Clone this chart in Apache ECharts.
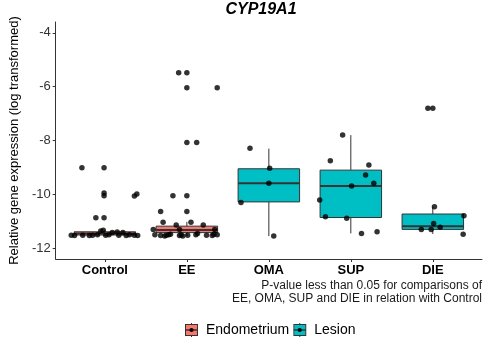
<!DOCTYPE html>
<html>
<head>
<meta charset="utf-8">
<script src="https://cdn.jsdelivr.net/npm/echarts@6/dist/echarts.min.js"></script>
<style>
  html, body { margin: 0; padding: 0; background: #fff; }
  #chart { width: 484px; height: 338px; }
</style>
</head>
<body>
<div id="chart"></div>
<script>
const categories = ["Control", "EE", "OMA", "SUP", "DIE"];
const yTicks = [-12, -10, -8, -6, -4];

// [position, lower whisker, Q1, median, Q3, upper whisker]
const endometriumBoxes = [
  [1, -11.55, -11.51, -11.45, -11.39, -11.32],
  [2, -11.55, -11.42, -11.32, -11.18, -11.02]
];
const lesionBoxes = [
  [3, -11.55, -10.28, -9.59, -9.05, -8.30],
  [4, -11.45, -10.86, -9.69, -9.10, -7.80],
  [5, -11.47, -11.30, -11.18, -10.73, -10.46]
];

// jittered points [x, value]
const controlPoints = [
  [0.72, -9.01], [0.99, -9.01], [0.99, -9.95], [0.99, -10.05], [1.36, -10.06],
  [1.39, -9.99], [0.89, -10.87], [0.99, -10.87],
  [0.59, -11.52], [0.63, -11.53], [0.73, -11.52], [0.81, -11.53], [0.85, -11.52],
  [0.91, -11.50], [0.95, -11.36], [0.98, -11.33], [1.01, -11.52], [1.05, -11.50],
  [1.09, -11.42], [1.15, -11.40], [1.17, -11.52], [1.22, -11.42], [1.26, -11.53],
  [1.30, -11.50], [1.36, -11.52], [1.40, -11.53]
];
const eePoints = [
  [1.90, -5.48], [2.00, -5.48], [2.00, -6.04], [2.37, -6.04], [2.00, -8.07],
  [2.12, -8.07], [1.83, -10.05], [2.00, -10.05], [1.68, -10.64], [2.00, -10.64],
  [1.71, -11.04], [2.05, -11.04], [1.87, -11.14], [2.20, -11.14], [1.59, -11.30],
  [1.91, -11.30], [2.34, -11.30],
  [1.61, -11.50], [1.68, -11.53], [1.73, -11.55], [1.75, -11.52], [1.78, -11.50],
  [1.80, -11.48], [1.91, -11.53], [1.93, -11.50], [1.95, -11.55], [2.01, -11.52],
  [2.11, -11.50], [2.13, -11.45], [2.24, -11.52], [2.31, -11.53], [2.33, -11.48],
  [2.37, -11.50]
];
const omaPoints = [
  [2.77, -8.29], [3.01, -9.03], [3.00, -9.59], [2.66, -10.30], [3.06, -11.55]
];
const supPoints = [
  [3.90, -7.80], [3.75, -8.75], [4.22, -8.91], [4.18, -9.28], [4.28, -9.59],
  [4.01, -9.69], [3.62, -10.21], [3.69, -10.83], [3.95, -10.89], [4.13, -11.45],
  [4.32, -11.39]
];
const diePoints = [
  [4.94, -6.80], [5.00, -6.80], [5.02, -10.46], [5.38, -10.79], [5.01, -11.08],
  [5.09, -11.22], [4.86, -11.30], [4.98, -11.30], [5.37, -11.48]
];

const categoryPositions = categories.map((c, i) => i + 1);
const allPoints = controlPoints.concat(eePoints, omaPoints, supPoints, diePoints);

const textFont = "Liberation Sans, Arial, sans-serif";

// ggplot-like legend key: box, median, whisker stubs and a point
function keyIcon(fill) {
  const svg =
    "<svg xmlns='http://www.w3.org/2000/svg' width='16' height='14' viewBox='0 0 16 14'>" +
    "<line x1='6.5' y1='0' x2='6.5' y2='14' stroke='#333' stroke-width='1'/>" +
    "<rect x='0.5' y='1.5' width='12' height='11' fill='" + fill + "' stroke='#333' stroke-width='1'/>" +
    "<line x1='0.5' y1='7' x2='12.5' y2='7' stroke='#333' stroke-width='1.5'/>" +
    "<circle cx='6.5' cy='7' r='2.1' fill='#000'/>" +
    "</svg>";
  return "image://data:image/svg+xml;charset=utf-8," + encodeURIComponent(svg);
}

function renderBox(params, api) {
  const x = api.value(0);
  const lo = api.coord([x, api.value(1)]);
  const q1 = api.coord([x, api.value(2)]);
  const med = api.coord([x, api.value(3)]);
  const q3 = api.coord([x, api.value(4)]);
  const hi = api.coord([x, api.value(5)]);
  const half = api.size([0.75, 0])[0] / 2;
  const stroke = "#333";
  return {
    type: "group",
    children: [
      { type: "line", shape: { x1: lo[0], y1: lo[1], x2: q1[0], y2: q1[1] }, style: { stroke: stroke, lineWidth: 1 } },
      { type: "line", shape: { x1: q3[0], y1: q3[1], x2: hi[0], y2: hi[1] }, style: { stroke: stroke, lineWidth: 1 } },
      {
        type: "rect",
        shape: { x: q3[0] - half, y: q3[1], width: half * 2, height: q1[1] - q3[1] },
        style: { fill: api.visual("color"), stroke: stroke, lineWidth: 1 }
      },
      { type: "line", shape: { x1: med[0] - half, y1: med[1], x2: med[0] + half, y2: med[1] }, style: { stroke: stroke, lineWidth: 2 } }
    ]
  };
}

let myChart = echarts.init(document.getElementById("chart"));
myChart.setOption({
  animation: false,
  textStyle: { fontFamily: textFont },
  grid: { left: 41, right: 2, top: 22, bottom: 79 },
  graphic: [
    {
      type: "text",
      x: 261,
      y: 2,
      style: { text: "CYP19A1", font: "italic bold 16px " + textFont, fill: "#000", align: "center", textAlign: "center" }
    },
    {
      type: "text",
      x: 482,
      y: 280,
      style: {
        text: "P-value less than 0.05 for comparisons of",
        font: "12px " + textFont,
        fill: "#1a1a1a",
        align: "right",
        textAlign: "right"
      }
    },
    {
      type: "text",
      x: 482,
      y: 292.5,
      style: {
        text: "EE, OMA, SUP and DIE in relation with Control",
        font: "12px " + textFont,
        fill: "#1a1a1a",
        align: "right",
        textAlign: "right"
      }
    }
  ],
  legend: {
    data: [
      { name: "Endometrium", icon: keyIcon("#F8766D") },
      { name: "Lesion", icon: keyIcon("#00BFC4") }
    ],
    left: 180,
    top: 318,
    itemWidth: 16,
    itemHeight: 14,
    itemGap: 4,
    textStyle: { fontSize: 14, color: "#000", fontFamily: textFont }
  },
  xAxis: {
    type: "value",
    min: 0.4,
    max: 5.6,
    splitLine: { show: false },
    axisLine: { lineStyle: { color: "#333", width: 1 } },
    axisTick: { customValues: categoryPositions, length: 3, lineStyle: { color: "#333" } },
    axisLabel: {
      customValues: categoryPositions,
      formatter: function (v) { return categories[Math.round(v) - 1]; },
      fontSize: 13,
      fontWeight: "bold",
      color: "#000",
      margin: 5
    }
  },
  yAxis: {
    type: "value",
    min: -12.4,
    max: -3.6,
    name: "Relative gene expression (log transformed)",
    nameLocation: "middle",
    nameGap: 28,
    nameTextStyle: { fontSize: 13, color: "#000", fontFamily: textFont },
    splitLine: { show: false },
    axisLine: { show: true, lineStyle: { color: "#333", width: 1 } },
    axisTick: { show: true, customValues: yTicks, length: 3, lineStyle: { color: "#333" } },
    axisLabel: { customValues: yTicks, fontSize: 13, color: "#333", margin: 5 }
  },
  series: [
    {
      name: "Endometrium",
      type: "custom",
      renderItem: renderBox,
      itemStyle: { color: "#F8766D" },
      encode: { x: 0, y: [1, 2, 3, 4, 5] },
      data: endometriumBoxes,
      z: 2
    },
    {
      name: "Lesion",
      type: "custom",
      renderItem: renderBox,
      itemStyle: { color: "#00BFC4" },
      encode: { x: 0, y: [1, 2, 3, 4, 5] },
      data: lesionBoxes,
      z: 2
    },
    {
      name: "points",
      type: "scatter",
      symbolSize: 5.5,
      itemStyle: { color: "#000" },
      data: allPoints,
      z: 4
    }
  ]
});
</script>
</body>
</html>
